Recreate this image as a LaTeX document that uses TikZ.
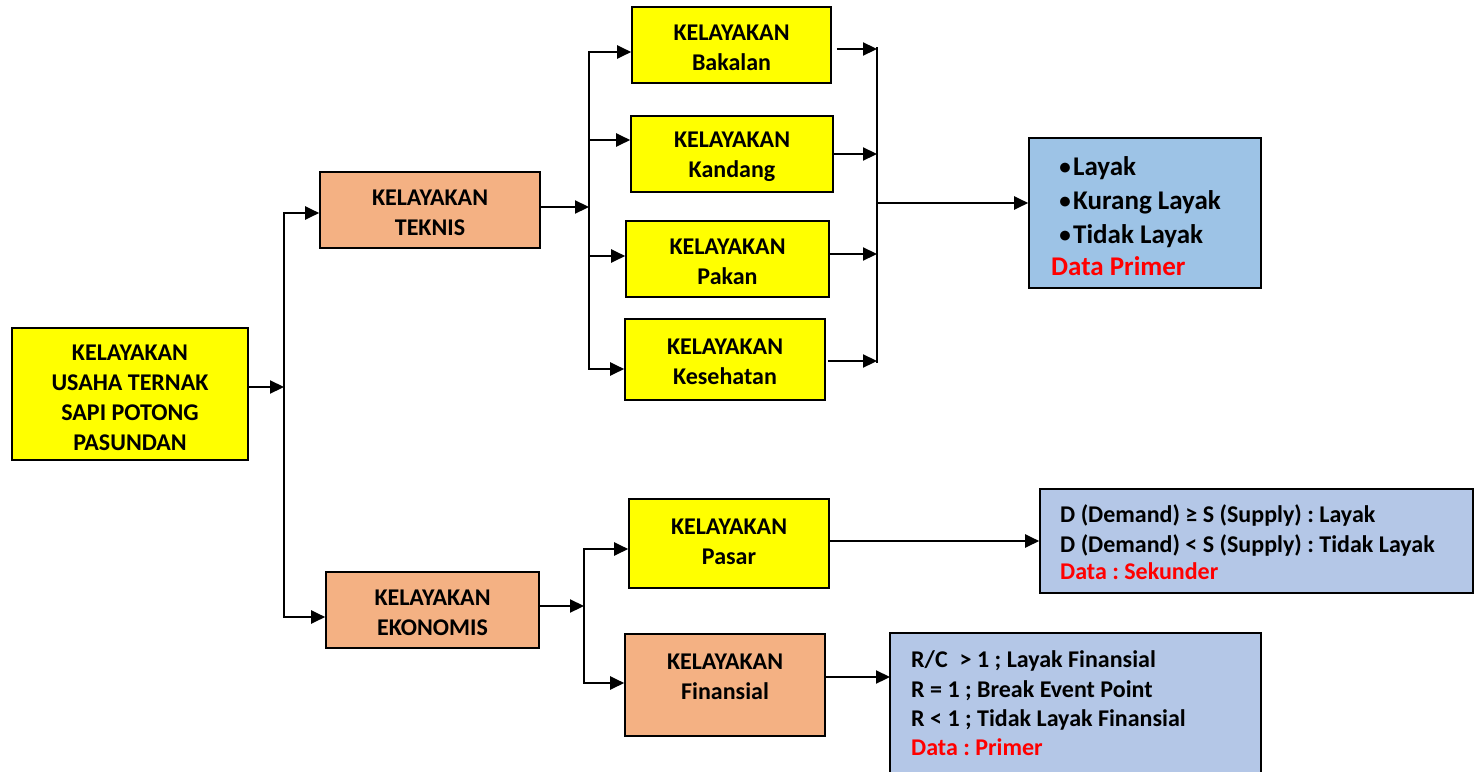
\documentclass[tikz,border=0pt]{standalone}
\usepackage{fontspec}
\setmainfont{Carlito}
\usetikzlibrary{arrows.meta}
\definecolor{ylw}{HTML}{FFFF00}
\definecolor{org}{HTML}{F4B183}
\definecolor{bluea}{HTML}{9DC3E6}
\definecolor{blueb}{HTML}{B4C7E7}
\definecolor{redtxt}{HTML}{FF0000}
\frenchspacing
\begin{document}
\begin{tikzpicture}[x=1pt,y=-1pt,
  font=\bfseries\fontsize{24}{30}\selectfont,
  box/.style={draw=black, line width=1.6pt, inner sep=0pt},
  conn/.style={line width=2.2pt},
  arr/.style={conn, -{Triangle[length=14pt,width=13pt]}},
  darr/.style={conn, {Triangle[length=14pt,width=13pt]}-{Triangle[length=14pt,width=13pt]}},
  txt/.style={inner sep=0pt, anchor=base west},
  ctxt/.style={inner sep=0pt, align=center},
  bigtxt/.style={txt, font=\bfseries\fontsize{27}{32}\selectfont},
  bul/.style={inner sep=0pt, anchor=base, font=\bfseries\fontsize{23}{32}\selectfont}]
\useasboundingbox (0,0) rectangle (1475,771);
% boxes
\node[box,fill=ylw,minimum width=236pt,minimum height=132pt] (main) at (130,394) {};
\node[ctxt] (mainT) at (130,398) {KELAYAKAN\\USAHA TERNAK\\SAPI POTONG\\PASUNDAN};
\node[box,fill=org,minimum width=220pt,minimum height=76pt] (teknis) at (430,210) {};
\node[ctxt] (teknisT) at (430,213) {KELAYAKAN\\TEKNIS};
\node[box,fill=org,minimum width=213pt,minimum height=76pt] (ekonomis) at (432.5,610) {};
\node[ctxt] (ekonomisT) at (432.5,613) {KELAYAKAN\\EKONOMIS};
\node[box,fill=ylw,minimum width=199pt,minimum height=76pt] (bakalan) at (731.5,45) {};
\node[ctxt] (bakalanT) at (731.5,48) {KELAYAKAN\\Bakalan};
\node[box,fill=ylw,minimum width=202pt,minimum height=76pt] (kandang) at (732,154) {};
\node[ctxt] (kandangT) at (732,157) {KELAYAKAN\\Kandang};
\node[box,fill=ylw,minimum width=203pt,minimum height=76pt] (pakan) at (727.5,259) {};
\node[ctxt] (pakanT) at (727.5,262) {KELAYAKAN\\Pakan};
\node[box,fill=ylw,minimum width=200pt,minimum height=81pt] (kesehatan) at (725,359.5) {};
\node[ctxt] (kesehatanT) at (725,362) {KELAYAKAN\\Kesehatan};
\node[box,fill=ylw,minimum width=200pt,minimum height=89pt] (pasar) at (729,543.5) {};
\node[ctxt] (pasarT) at (729,542) {KELAYAKAN\\Pasar};
\node[box,fill=org,minimum width=200pt,minimum height=102pt] (finansial) at (725,685) {};
\node[ctxt] (finT) at (725,677) {KELAYAKAN\\Finansial};
\node[box,fill=bluea,minimum width=232pt,minimum height=150pt] (bluea) at (1145,213) {};
\node[box,fill=blueb,minimum width=433pt,minimum height=104pt] (dbox) at (1256.5,541) {};
\node[box,fill=blueb,minimum width=371pt,minimum height=147pt] (rc) at (1075.5,706.5) {};
% texts in blue boxes
\node[bul] (b1) at (1065,174) {•};
\node[bigtxt] (t1) at (1073,175) {Layak};
\node[bul] (b2) at (1065,208) {•};
\node[bigtxt] (t2) at (1073,209) {Kurang Layak};
\node[bul] (b3) at (1065,242) {•};
\node[bigtxt] (t3) at (1073,243) {Tidak Layak};
\node[bigtxt,text=redtxt] (t4) at (1051,275) {Data Primer};
\node[txt] (d1) at (1060,522) {D (Demand) ≥ S (Supply) : Layak};
\node[txt] (d2) at (1060,552) {D (Demand) < S (Supply) : Tidak Layak};
\node[txt,text=redtxt] (d3) at (1060,579) {Data : Sekunder};
\node[txt] (r1) at (911,667) {R/C\enspace> 1 ; Layak Finansial};
\node[txt] (r2) at (911,697) {R = 1 ; Break Event Point};
\node[txt] (r3) at (911,726) {R < 1 ; Tidak Layak Finansial};
\node[txt,text=redtxt] (r4) at (911,755) {Data : Primer};
% bracket coordinates
\coordinate (b1t) at (284,213);
\coordinate (b1b) at (284,617);
\coordinate (b1m) at (284,387);
\coordinate (b2t) at (589,52);
\coordinate (b2b) at (589,369);
\coordinate (b2m) at (589,207);
\coordinate (b2k) at (589,140);
\coordinate (b2p) at (589,256);
\coordinate (b3t) at (877,48);
\coordinate (b3b) at (877,362);
\coordinate (b3a) at (877,49);
\coordinate (b3k) at (877,154);
\coordinate (b3p) at (877,254);
\coordinate (b3s) at (877,361);
\coordinate (b3m) at (877,203);
\coordinate (b4t) at (584,549);
\coordinate (b4b) at (584,683);
\coordinate (b4m) at (584,606);
\coordinate (rcin) at (890,677);
% connectors
\draw[arr] (main.east |- b1m) -- (b1m);
\draw[darr] (ekonomis.west |- b1b) -- (b1b) -- (b1t) -- (teknis.west |- b1t);
\draw[arr] (teknis.east |- b2m) -- (b2m);
\draw[darr] (kesehatan.west |- b2b) -- (b2b) -- (b2t) -- (bakalan.west |- b2t);
\draw[arr] (b2k) -- (kandang.west |- b2k);
\draw[arr] (b2p) -- (pakan.west |- b2p);
\draw[conn, line cap=rect] (b3t) -- (b3b);
\draw[arr] ([xshift=5pt]bakalan.east |- b3a) -- (b3a);
\draw[arr] (kandang.east |- b3k) -- (b3k);
\draw[arr] (pakan.east |- b3p) -- (b3p);
\draw[arr] ([xshift=2pt]kesehatan.east |- b3s) -- (b3s);
\draw[arr] (b3m) -- (bluea.west |- b3m);
\draw[arr] (ekonomis.east |- b4m) -- (b4m);
\draw[darr] (finansial.west |- b4b) -- (b4b) -- (b4t) -- (pasar.west |- b4t);
\draw[arr] (dbox.west -| pasar.east) -- (dbox.west);
\draw[arr] (finansial.east |- rcin) -- (rcin);
\end{tikzpicture}
\end{document}
